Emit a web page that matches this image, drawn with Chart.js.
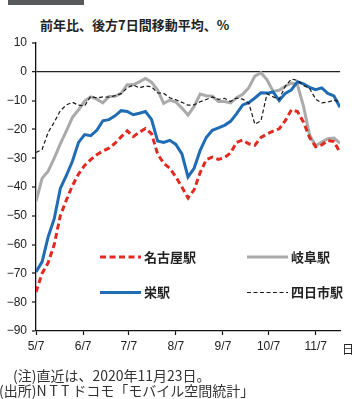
<!DOCTYPE html>
<html>
<head>
<meta charset="utf-8">
<script src="https://cdn.jsdelivr.net/npm/chart.js@4/dist/chart.umd.min.js"></script>
<style>
  html, body { margin: 0; padding: 0; background: #fff; }
  #wrap { position: relative; width: 357px; height: 399px; overflow: hidden; }
  #chart { position: absolute; left: 0; top: 0; }
  .txt { position: absolute; white-space: nowrap; color: #222;
         font-family: "Noto Sans CJK JP", "Noto Sans", sans-serif; }
  #band { position: absolute; left: 8px; top: 0; width: 76px; height: 5px; background: #58595b; }
  #unit { left: 40px; top: 15px; font-size: 13px; font-weight: 700; }
  #day  { left: 342px; top: 340px; font-size: 12px; }
  #note1 { left: 13px; top: 365px; font-size: 14px; color: #333; }
  #note2 { left: -1px; top: 380px; font-size: 14px; color: #333; }
  .wide { letter-spacing: 3px; }
</style>
</head>
<body>
<div id="wrap">
  <div id="band"></div>
  <div class="txt" id="unit">前年比、後方7日間移動平均、%</div>
  <canvas id="chart" width="357" height="399"></canvas>
  <div class="txt" id="day">日</div>
  <div class="txt" id="note1">(注)直近は、2020年11月23日。</div>
  <div class="txt" id="note2">(出所)<span class="wide">NTT</span>ドコモ「モバイル空間統計」</div>
</div>
<script>
// Days counted from 5/7 (day 0) to 11/23 (day 200)
const days = [0,4,8,12,16,20,24,28,32,36,40,44,48,52,56,60,64,68,72,76,80,84,88,92,96,
  100,104,108,112,116,120,124,128,132,136,140,144,148,152,156,160,164,168,172,176,180,184,188,192,196,200];

// Year-on-year change (%), 7-day trailing average
const nagoya = [-76.5,-70,-66.3,-60,-50,-44.5,-39.5,-35.5,-32.5,-30.5,-28.8,-27.5,-26.5,-24.8,-22.6,-20.5,
  -22.5,-21,-19.7,-21.5,-28.5,-31.8,-33.5,-36.5,-40,-43.8,-41,-35,-30.5,-29.6,-30.4,-29.8,-28.2,-24.5,-23.7,
  -25,-25.5,-22.8,-21.6,-20.6,-19.8,-17,-13.2,-13.8,-17.5,-22.8,-26,-25.4,-23.8,-24.2,-28];
const gifu = [-45,-37,-34.5,-30,-25,-20.5,-15.8,-13.2,-10.2,-8.7,-9.5,-10.8,-8.6,-8.5,-7.5,-4.5,
  -4.5,-3.5,-2.3,-3.6,-6.3,-11,-9.8,-10.5,-12.6,-15,-12,-7.7,-8.3,-8.5,-10.3,-10.3,-10.8,-9,-7.8,
  -5.5,-1.5,-0.3,-2.8,-6.8,-6.4,-5,-3.9,-4.5,-12,-22,-25.7,-24.4,-23.2,-23,-24.8];
const sakae = [-69.5,-66,-57.3,-51,-40.5,-36,-31,-24.5,-21.8,-22.2,-20.3,-17,-16.6,-15.3,-13.5,-13.8,
  -14.9,-14.4,-13.8,-16.5,-24,-24.5,-23.8,-25.2,-28.5,-36.5,-33.5,-27.3,-22.8,-20.3,-19.5,-18.6,-17.2,-14.5,-11.5,
  -10.7,-9.1,-7.3,-7.4,-7,-10,-7.5,-6.3,-3.5,-4.2,-5.4,-6.2,-5.6,-7.5,-8.4,-12.3];
const yokkaichi = [-28,-27,-21,-17.5,-13.5,-11.5,-10.6,-11.6,-11.8,-8.5,-9.1,-8.7,-8.8,-8.3,-7.6,-5.6,
  -4.6,-5.6,-4.9,-5.2,-7.3,-7.5,-9,-9.7,-10.6,-11.6,-11.5,-10.4,-9.6,-8.7,-9.6,-9.2,-10.3,-9.1,-9.5,
  -10.9,-18.2,-17,-7.6,-8.7,-9.5,-5,-2.5,-3,-4.7,-5.8,-9.5,-10.8,-10.5,-9.9,-10.3];

const seriesNames = ['名古屋駅', '岐阜駅', '栄駅', '四日市駅'];
const tickDays = [0, 31, 61, 92, 123, 153, 184];
const tickLabels = ['5/7', '6/7', '7/7', '8/7', '9/7', '10/7', '11/7'];
const yTicks = [10, 0, -10, -20, -30, -40, -50, -60, -70, -80, -90];

const pts = arr => arr.map((v, i) => ({ x: days[i], y: v }));

// Legend drawn inside the plot, two columns
const insideLegend = {
  id: 'insideLegend',
  afterDatasetsDraw(chart) {
    const { ctx, chartArea: a } = chart;
    const ds = chart.data.datasets;
    const cols = [a.left + 64, a.left + 211];
    const rows = [a.top + 214, a.top + 249.5];
    const place = [[0, 0], [1, 0], [0, 1], [1, 1]];
    ctx.save();
    ctx.font = '700 13px "Noto Sans CJK JP", sans-serif';
    ctx.textBaseline = 'middle';
    ctx.fillStyle = '#222';
    ds.forEach((d, i) => {
      const x = cols[place[i][0]], y = rows[place[i][1]];
      ctx.beginPath();
      ctx.strokeStyle = d.borderColor;
      ctx.lineWidth = d.borderWidth;
      ctx.setLineDash(d.borderDash || []);
      ctx.moveTo(x, y);
      ctx.lineTo(x + 41, y);
      ctx.stroke();
      ctx.setLineDash([]);
      ctx.fillText(d.label, x + 44, y);
    });
    ctx.restore();
  }
};

new Chart(document.getElementById('chart'), {
  type: 'line',
  data: {
    datasets: [
      { label: seriesNames[0], data: pts(nagoya), borderColor: '#e02a22', borderWidth: 3,
        borderDash: [6, 3.5], order: 2 },
      { label: seriesNames[1], data: pts(gifu), borderColor: '#aaaaaa', borderWidth: 3, order: 4 },
      { label: seriesNames[2], data: pts(sakae), borderColor: '#1f6cb4', borderWidth: 3, order: 3 },
      { label: seriesNames[3], data: pts(yokkaichi), borderColor: '#1a1a1a', borderWidth: 1.2,
        borderDash: [4, 2.5], order: 1 }
    ]
  },
  options: {
    responsive: false,
    animation: false,
    devicePixelRatio: 1,
    layout: { padding: { left: 0, right: 17, top: 43, bottom: 0 } },
    elements: { point: { radius: 0 }, line: { tension: 0, fill: false, borderCapStyle: 'butt' } },
    plugins: { legend: { display: false }, tooltip: { enabled: false } },
    scales: {
      x: {
        type: 'linear', min: 0, max: 200,
        afterBuildTicks: s => { s.ticks = tickDays.map(v => ({ value: v })); },
        afterFit: s => { s.height = 68; },
        ticks: {
          autoSkip: false, maxRotation: 0, padding: 4, color: '#222',
          font: { family: 'Liberation Sans, Arial, sans-serif', size: 12 },
          callback: v => tickLabels[tickDays.indexOf(v)]
        },
        grid: { drawOnChartArea: false, tickLength: 4, tickColor: '#111', tickWidth: 1.2 },
        border: { display: true, color: '#111', width: 1.3 }
      },
      y: {
        min: -90, max: 10,
        afterBuildTicks: s => { s.ticks = yTicks.map(v => ({ value: v })); },
        afterFit: s => { s.width = 36; },
        ticks: {
          padding: 5, color: '#222',
          font: { family: 'Liberation Sans, Arial, sans-serif', size: 12 },
          callback: v => (v < 0 ? '\u2212' + Math.abs(v) : String(v))
        },
        grid: {
          drawOnChartArea: true, tickLength: 4, tickColor: '#111', tickWidth: 1.2,
          color: c => (c.tick && c.tick.value === 0 ? '#222' : 'rgba(0,0,0,0)'),
          lineWidth: c => (c.tick && c.tick.value === 0 ? 1.3 : 0)
        },
        border: { display: true, color: '#111', width: 1.3 }
      }
    }
  },
  plugins: [insideLegend]
});
</script>
</body>
</html>
